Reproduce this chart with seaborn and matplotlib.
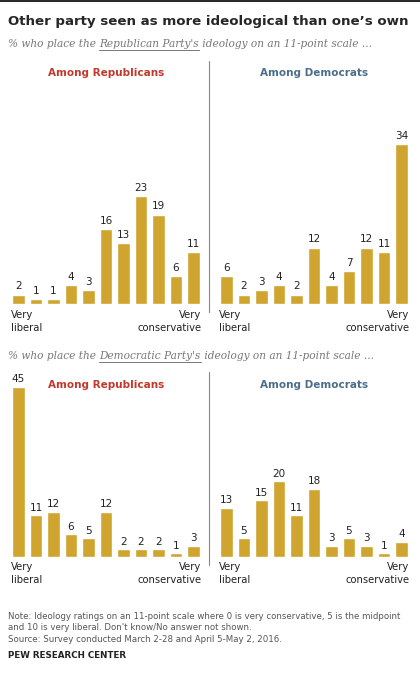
import matplotlib
matplotlib.use("Agg")
import matplotlib.pyplot as plt
import seaborn as sns
import pandas as pd
from matplotlib.lines import Line2D

sns.set_style("white")
plt.rcParams['font.family'] = ['DejaVu Sans']

scale = list(range(11))
rep_on_rep = [2, 1, 1, 4, 3, 16, 13, 23, 19, 6, 11]
dem_on_rep = [6, 2, 3, 4, 2, 12, 4, 7, 12, 11, 34]
rep_on_dem = [45, 11, 12, 6, 5, 12, 2, 2, 2, 1, 3]
dem_on_dem = [13, 5, 15, 20, 11, 18, 3, 5, 3, 1, 4]
panel_titles = ["Among Republicans", "Among Democrats"]
subtitles = [("% who place the ", "Republican Party's", " ideology on an 11-point scale ..."),
             ("% who place the ", "Democratic Party's", " ideology on an 11-point scale ...")]

W, H = 420, 679
fig = plt.figure(figsize=(W/100, H/100), dpi=100)
GOLD = "#CFA52F"
RED = "#C0392B"
BLUE = "#4A6E8C"

def px(x, y, w, h):
    return [x/W, 1-(y+h)/H, w/W, h/H]

fig.add_artist(Line2D([0, 1], [1-1/H]*2, color="black", lw=1.2))
fig.text(8/W, 1-22/H, "Other party seen as more ideological than one\u2019s own",
         fontsize=9.6, fontweight="bold", va="center", ha="left")

def subtitle(y, parts):
    fig.canvas.draw()
    r = fig.canvas.get_renderer()
    x = 8/W
    for i, p in enumerate(parts):
        t = fig.text(x, 1-y/H, p, fontsize=7.6, style="italic", color="#777777",
                     family="DejaVu Serif", va="center", ha="left")
        bb = t.get_window_extent(r)
        w = bb.width / (W)
        if i == 1:
            fig.add_artist(Line2D([x, x+w], [1-(y+6)/H]*2, color="#777777", lw=0.7))
        x += w

subtitle(44, subtitles[0])
subtitle(356, subtitles[1])

def panel(rect, vals, title, tcolor, ymax, tx_y):
    ax = fig.add_axes(px(*rect))
    df = pd.DataFrame({"x": scale, "v": vals})
    sns.barplot(data=df, x="x", y="v", color=GOLD, width=0.72, ax=ax, saturation=1)
    for i, v in enumerate(vals):
        ax.text(i, v + ymax*0.015, str(v), ha="center", va="bottom", fontsize=7.5, color="#222222")
    ax.set_ylim(0, ymax)
    ax.set_xlim(-0.6, 10.6)
    ax.set_xticks([]); ax.set_yticks([])
    ax.set_xlabel(""); ax.set_ylabel("")
    for s in ax.spines.values():
        s.set_visible(False)
    ax.text(0.5, tx_y, title, transform=ax.transAxes, ha="center", va="center",
            fontsize=7.5, fontweight="bold", color=tcolor)
    ax.text(-0.45, -ymax*0.03, "Very\nliberal", ha="left", va="top", fontsize=7.2, color="#222222", linespacing=1.3)
    ax.text(10.45, -ymax*0.03, "Very\nconservative", ha="right", va="top", fontsize=7.2, color="#222222", linespacing=1.3)
    return ax

panel((8, 90, 196, 214), rep_on_rep, panel_titles[0], RED, 45.5, 1.08)
panel((216, 90, 196, 214), dem_on_rep, panel_titles[1], BLUE, 45.5, 1.08)
panel((8, 385, 196, 172), rep_on_dem, panel_titles[0], RED, 45.5, 1.0)
panel((216, 385, 196, 172), dem_on_dem, panel_titles[1], BLUE, 45.5, 1.0)

fig.add_artist(Line2D([209/W]*2, [1-61/H, 1-312/H], color="#888888", lw=0.8))
fig.add_artist(Line2D([209/W]*2, [1-372/H, 1-565/H], color="#888888", lw=0.8))

fig.text(8/W, 1-612/H, "Note: Ideology ratings on an 11-point scale where 0 is very conservative, 5 is the midpoint\n"
         "and 10 is very liberal. Don't know/No answer not shown.\n"
         "Source: Survey conducted March 2-28 and April 5-May 2, 2016.",
         fontsize=6.2, color="#555555", va="top", ha="left", linespacing=1.35)
fig.text(8/W, 1-656/H, "PEW RESEARCH CENTER", fontsize=6.3, fontweight="bold", color="#222222",
         va="center", ha="left")

fig.savefig("out.png", dpi=100)
